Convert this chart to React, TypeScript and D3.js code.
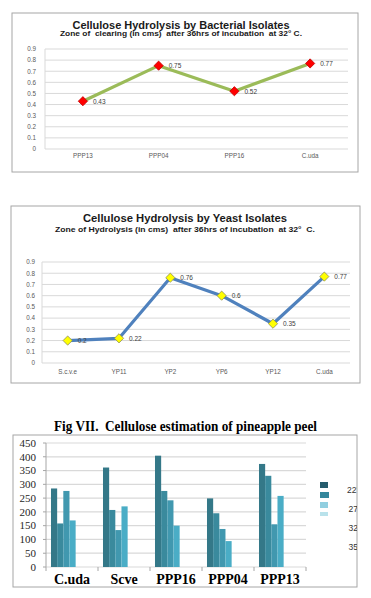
import React from "react";
import * as d3 from "d3";

const bactCategories = ["PPP13", "PPP04", "PPP16", "C.uda"];
const bactValues = [0.43, 0.75, 0.52, 0.77];

const yeastCategories = ["S.c.v.e", "YP11", "YP2", "YP6", "YP12", "C.uda"];
const yeastValues = [0.2, 0.22, 0.76, 0.6, 0.35, 0.77];

const lineTicks = [0, 0.1, 0.2, 0.3, 0.4, 0.5, 0.6, 0.7, 0.8, 0.9];

const barCategories = ["C.uda", "Scve", "PPP16", "PPP04", "PPP13"];
const barSeries = ["22°", "27", "32", "35"];
const barValues = [
  [285, 158, 276, 169],
  [361, 207, 134, 220],
  [404, 276, 242, 150],
  [249, 195, 138, 94],
  [374, 331, 155, 258],
];
const barTicks = [0, 50, 100, 150, 200, 250, 300, 350, 400, 450];

const barColors = ["#347888", "#3a8a9d", "#4198af", "#4aadc6"];
const legendColors = ["#255c6d", "#34879c", "#91cfe0", "#b9e2eb"];

const sans = "'Liberation Sans', Arial, sans-serif";
const serif = "'Liberation Serif', 'Times New Roman', serif";
const pre = { whiteSpace: "pre" as const };

type LineProps = {
  frame: [number, number, number, number];
  title: string;
  titleY: number;
  titleLen: number;
  subtitle: string;
  subY: number;
  subLen: number;
  cx: number;
  x0: number;
  x1: number;
  yTop: number;
  yBot: number;
  labelY: number;
  cats: string[];
  vals: number[];
  lineColor: string;
  markFill: string;
  markStroke: string;
  labelRight: number;
};

function LineChart(p: LineProps) {
  const x = d3.scaleBand<string>().domain(p.cats).range([p.x0, p.x1]);
  const y = d3.scaleLinear().domain([0, 0.9]).range([p.yBot, p.yTop]);
  const line = d3
    .line<number>()
    .x((_, i) => (x(p.cats[i]) as number) + x.bandwidth() / 2)
    .y((d) => y(d));
  const [fx, fy, fw, fh] = p.frame;
  return (
    <g>
      <rect x={fx} y={fy} width={fw} height={fh} fill="#fff" stroke="#a6a6a6" strokeWidth={1} />
      <text x={p.cx} y={p.titleY} textAnchor="middle" fontFamily={sans} fontWeight="bold" fontSize={10.5} fill="#1a1a1a" textLength={p.titleLen} lengthAdjust="spacingAndGlyphs" style={pre}>
        {p.title}
      </text>
      <text x={p.cx} y={p.subY} textAnchor="middle" fontFamily={sans} fontWeight="bold" fontSize={6.8} fill="#1a1a1a" textLength={p.subLen} lengthAdjust="spacingAndGlyphs" style={pre}>
        {p.subtitle}
      </text>
      {lineTicks.map((t) => (
        <g key={t}>
          {t > 0 && <line x1={p.x0} x2={p.x1} y1={y(t)} y2={y(t)} stroke="#d9d9d9" strokeWidth={1} />}
          <text x={p.labelRight} y={y(t) + 2.3} textAnchor="end" fontFamily={sans} fontSize={6.3} fill="#595959">
            {t === 0 ? "0" : t.toFixed(1)}
          </text>
        </g>
      ))}
      <line x1={p.x0} x2={p.x0} y1={p.yTop} y2={p.yBot} stroke="#d9d9d9" strokeWidth={1} />
      <line x1={p.x0} x2={p.x1} y1={p.yBot} y2={p.yBot} stroke="#d9d9d9" strokeWidth={1} />
      {p.cats.map((c) => (
        <text key={c} x={(x(c) as number) + x.bandwidth() / 2} y={p.labelY} textAnchor="middle" fontFamily={sans} fontSize={6.3} fill="#595959">
          {c}
        </text>
      ))}
      <path d={line(p.vals) as string} fill="none" stroke={p.lineColor} strokeWidth={3.2} strokeLinejoin="round" />
      {p.vals.map((v, i) => {
        const cx = (x(p.cats[i]) as number) + x.bandwidth() / 2;
        const cy = y(v);
        const r = 4.6;
        return (
          <g key={i}>
            <path d={`M${cx},${cy - r}L${cx + r},${cy}L${cx},${cy + r}L${cx - r},${cy}Z`} fill={p.markFill} stroke={p.markStroke} strokeWidth={0.8} />
            <text x={cx + 10} y={cy + 2.5} fontFamily={sans} fontSize={6.5} fill="#404040">
              {String(v)}
            </text>
          </g>
        );
      })}
    </g>
  );
}

function BarChart() {
  const x0 = 46,
    x1 = 306,
    yTop = 443,
    yBot = 567;
  const x = d3.scaleBand<string>().domain(barCategories).range([x0, x1]);
  const bw = x.bandwidth();
  const xs = d3.scaleBand<string>().domain(barSeries).range([bw * 0.096, bw * 0.57]);
  const y = d3.scaleLinear().domain([0, 450]).range([yBot, yTop]);
  return (
    <g>
      <rect x={13} y={435} width={344} height={152} fill="#fff" stroke="#a6a6a6" strokeWidth={1} />
      <text x={185.5} y={431} textAnchor="middle" fontFamily={serif} fontWeight="bold" fontSize={14} fill="#000" textLength={263} lengthAdjust="spacingAndGlyphs" style={pre}>
        Fig VII.  Cellulose estimation of pineapple peel
      </text>
      {barTicks.map((t) => (
        <g key={t}>
          <line x1={x0} x2={x1} y1={y(t)} y2={y(t)} stroke="#d9d9d9" strokeWidth={1.2} />
          <line x1={x0 - 3} x2={x0} y1={y(t)} y2={y(t)} stroke="#a6a6a6" strokeWidth={1} />
          <text x={36} y={y(t) + 3.8} textAnchor="end" fontFamily={serif} fontSize={11} fill="#262626">
            {t}
          </text>
        </g>
      ))}
      <line x1={x0} x2={x0} y1={yTop} y2={yBot} stroke="#a6a6a6" strokeWidth={1} />
      {barCategories.map((c, i) => (
        <g key={c}>
          <line x1={(x(c) as number) + bw} x2={(x(c) as number) + bw} y1={yBot} y2={yBot + 4} stroke="#a6a6a6" strokeWidth={1} />
          {barValues[i].map((v, j) => (
            <rect key={j} x={(x(c) as number) + (xs(barSeries[j]) as number)} y={y(v)} width={xs.bandwidth()} height={yBot - y(v)} fill={barColors[j]} />
          ))}
          <text x={(x(c) as number) + bw / 2} y={584} textAnchor="middle" fontFamily={serif} fontWeight="bold" fontSize={14} fill="#000">
            {c}
          </text>
        </g>
      ))}
      <line x1={x0} x2={x0} y1={yBot} y2={yBot + 4} stroke="#a6a6a6" strokeWidth={1} />
      <clipPath id="legclip">
        <rect x={300} y={470} width={57} height={90} />
      </clipPath>
      {legendColors.map((c, i) => (
        <rect key={i} x={320} y={482 + i * 10} width={i === 1 ? 9 : 8} height={i === 3 ? 4 : 6} fill={c} />
      ))}
      <g clipPath="url(#legclip)">
        {barSeries.map((s, i) => (
          <text key={s} x={i === 0 ? 347 : 348.5} y={493 + i * 19} fontFamily={sans} fontSize={8.5} fill="#333">
            {s}C
          </text>
        ))}
      </g>
    </g>
  );
}

export default function App() {
  return (
    <svg width={371} height={598} style={{ position: "absolute", left: 0, top: 0, background: "#fff" }}>
      <rect x={0} y={0} width={371} height={598} fill="#fff" />
      <LineChart
        frame={[12, 13, 346, 159]}
        title="Cellulose Hydrolysis by Bacterial Isolates"
        titleY={28.5}
        titleLen={217}
        subtitle="Zone of  clearing (in cms)  after 36hrs of incubation  at 32° C."
        subY={35.5}
        subLen={242}
        cx={181}
        x0={45}
        x1={348}
        yTop={49}
        yBot={149}
        labelY={157.5}
        cats={bactCategories}
        vals={bactValues}
        lineColor="#9bbb59"
        markFill="#ff0000"
        markStroke="#c00000"
        labelRight={36}
      />
      <LineChart
        frame={[11, 206, 349, 177]}
        title="Cellulose Hydrolysis by Yeast Isolates"
        titleY={221.5}
        titleLen={204}
        subtitle="Zone of Hydrolysis (in cms)  after 36hrs of incubation  at 32°  C."
        subY={231.5}
        subLen={260}
        cx={185}
        x0={42}
        x1={350}
        yTop={262}
        yBot={363}
        labelY={374}
        cats={yeastCategories}
        vals={yeastValues}
        lineColor="#4f81bd"
        markFill="#ffff00"
        markStroke="#8c8c5a"
        labelRight={35}
      />
      <BarChart />
    </svg>
  );
}
